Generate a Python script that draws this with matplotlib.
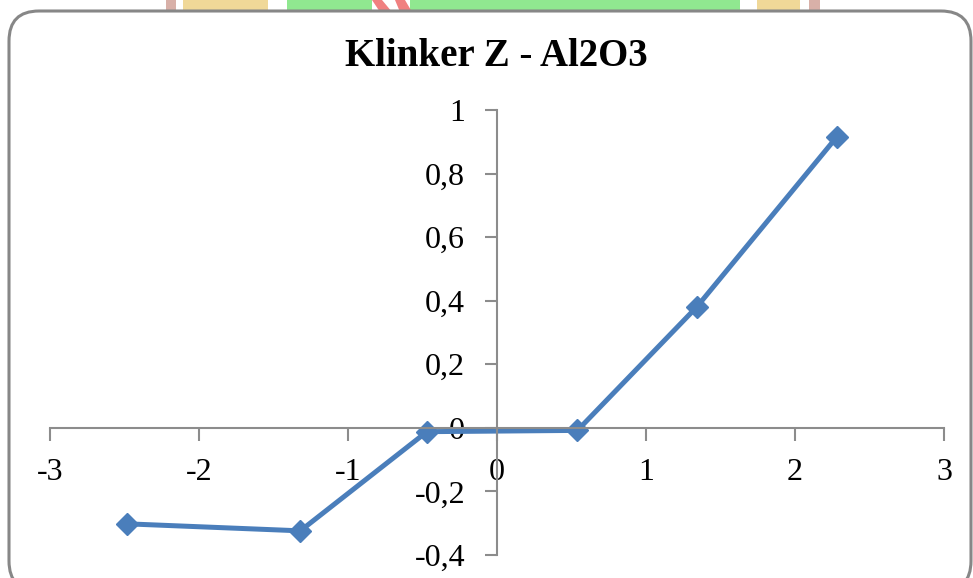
import matplotlib.pyplot as plt
from matplotlib.patches import FancyBboxPatch, Rectangle, Polygon

# normal plot points for Al2O3 (klinker Z)
z_scores = [-2.48, -1.32, -0.47, 0.54, 1.34, 2.28]
values = [-0.302, -0.324, -0.012, -0.008, 0.38, 0.915]

x_ticks = [-3, -2, -1, 0, 1, 2, 3]
y_ticks = [-0.4, -0.2, 0, 0.2, 0.4, 0.6, 0.8, 1]
y_labels = ['-0,4', '-0,2', '0', '0,2', '0,4', '0,6', '0,8', '1']

W, H = 973, 578
fig = plt.figure(figsize=(W / 100, H / 100), dpi=100)
plt.rcParams['font.family'] = ['Liberation Serif', 'DejaVu Serif']

# coloured strip of the page background above the chart box
bg = fig.add_axes([0, 0, 1, 1], zorder=0)
bg.set_xlim(0, W)
bg.set_ylim(H, 0)
bg.axis('off')
for x0, x1, c in [(166, 176, '#d8b0a8'), (183, 268, '#f0d898'), (287, 372, '#90e890'),
                  (410, 740, '#90e890'), (757, 800, '#f0d898'), (809, 820, '#d8b0a8')]:
    bg.add_patch(Rectangle((x0, 0), x1 - x0, 12, color=c, lw=0))
bg.add_patch(Polygon([(372, 0), (382, 0), (392, 12), (380, 12)], color='#f08080', lw=0))
bg.add_patch(Polygon([(395, 0), (405, 0), (412, 12), (400, 12)], color='#f08080', lw=0))
bg.add_patch(FancyBboxPatch((9, 11), 962, 580, boxstyle='round,pad=0,rounding_size=30',
                            fc='white', ec='#878787', lw=2.2))

ax = fig.add_axes([50 / W, 1 - 555 / H, (944 - 50) / W, (555 - 110) / H], zorder=1)
ax.patch.set_alpha(0)
ax.plot(z_scores, values, color='#4a7ebb', lw=3.6, marker='D', ms=11,
        markeredgecolor='#4a7ebb', clip_on=False)

ax.set_xlim(-3, 3)
ax.set_ylim(-0.4, 1)
ax.set_xticks(x_ticks)
ax.set_xticklabels([str(t) for t in x_ticks])
ax.set_yticks(y_ticks)
ax.set_yticklabels(y_labels)

ax.spines['left'].set_position(('data', 0))
ax.spines['bottom'].set_position(('data', 0))
ax.spines['top'].set_visible(False)
ax.spines['right'].set_visible(False)
for s in ('left', 'bottom'):
    ax.spines[s].set_color('#8c8c8c')
    ax.spines[s].set_linewidth(1.5)

ax.tick_params(axis='x', direction='out', length=9, width=1.5, color='#8c8c8c',
               labelsize=23, pad=13)
ax.tick_params(axis='y', direction='out', length=9, width=1.5, color='#8c8c8c',
               labelsize=23, pad=14)

fig.text(496 / W, 1 - 57 / H, 'Klinker Z - Al2O3', ha='center', va='center',
         fontsize=28, fontweight='bold')

fig.savefig('out.png', dpi=100)
